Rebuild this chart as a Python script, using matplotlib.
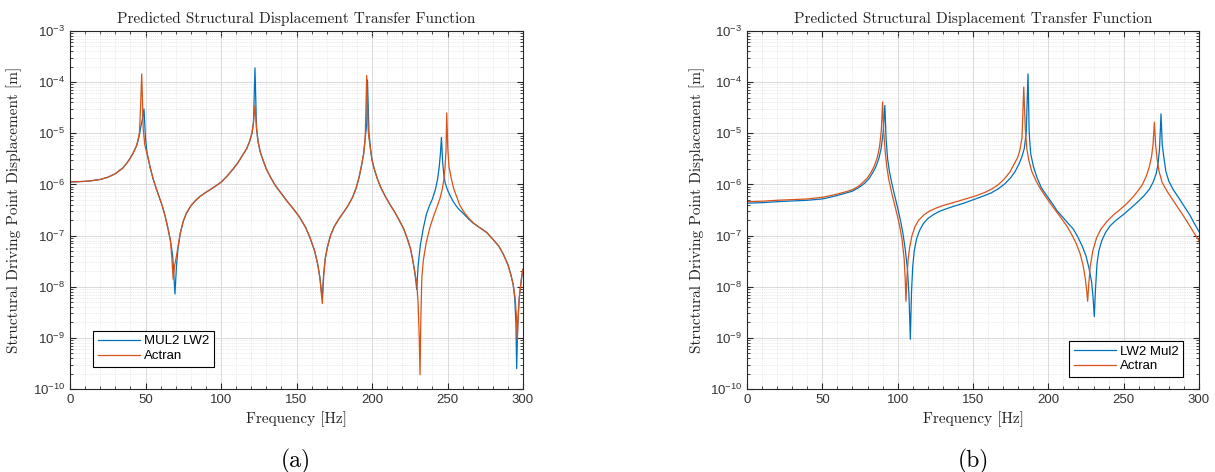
import matplotlib.pyplot as plt
from matplotlib.ticker import MultipleLocator, LogLocator, NullFormatter

plt.switch_backend('agg')

# ---- panel (a) ----
freq_a_mul2 = [0, 5, 10, 15, 20, 25, 30, 35, 38, 40, 42, 44, 45, 46, 47, 48, 49, 50, 51, 53, 55, 57, 59, 61,
               63, 65, 66.5, 68, 69.5, 70.5, 71.5, 73, 75, 77, 80, 83, 86, 90, 95, 100, 104, 108, 111, 114,
               117, 119, 120.5, 121.5, 122.5, 123.5, 124.5, 126, 128, 130, 133, 136, 140, 144, 148, 152, 156,
               159, 162, 164, 165.5, 166.5, 167.1, 168, 169, 170.5, 172.5, 175, 178, 181, 184, 187, 189.5,
               191.5, 193, 194.5, 195.5, 196.5, 197, 198, 199, 200, 201.5, 203.5, 206, 209, 212, 215, 218,
               221, 223.5, 225.5, 227, 228.5, 229.6, 230.5, 232, 234, 236, 238, 240, 242, 243.5, 244.5, 245.3,
               246, 246.7, 247.5, 248.5, 250, 252, 254, 257, 260.5, 264, 267, 271, 276, 280, 284, 287, 290,
               292, 293.5, 294.5, 295.3, 295.8, 296.5, 297.5, 298.5, 299.3, 300]
disp_a_mul2 = [1.12e-6, 1.13e-6, 1.15e-6, 1.19e-6, 1.25e-6, 1.38e-6, 1.62e-6, 2.1e-6, 2.7e-6, 3.3e-6, 4.2e-6,
               5.6e-6, 7e-6, 9.5e-6, 1.4e-5, 1.9e-5, 3e-5, 8e-6, 4.2e-6, 2.2e-6, 1.3e-6, 8.5e-7, 5.8e-7,
               3.9e-7,
               2.4e-7, 1.35e-7, 8e-8, 4e-8, 7.2e-9, 2.5e-8, 5.5e-8, 1.1e-7, 1.9e-7, 2.7e-7, 3.8e-7, 4.8e-7,
               5.8e-7, 7e-7, 8.7e-7, 1.1e-6, 1.45e-6, 2e-6, 2.6e-6, 3.6e-6,
               5e-6, 7e-6, 1e-5, 1.6e-5, 1.9e-4, 1.3e-5, 7e-6, 4.3e-6, 2.9e-6, 2e-6, 1.35e-6, 9.5e-7, 6.6e-7,
               4.6e-7, 3.3e-7, 2.3e-7, 1.45e-7,
               9e-8, 5e-8, 2.8e-8, 1.5e-8, 8e-9, 6.3e-9, 1.8e-8, 3.5e-8, 6e-8, 1e-7, 1.5e-7, 2.1e-7, 2.8e-7,
               3.8e-7, 5.5e-7, 8.5e-7,
               1.4e-6, 2.3e-6, 4e-6, 8e-6, 1.5e-5, 1.1e-4, 1e-5, 5e-6, 3e-6, 2e-6, 1.3e-6, 8.5e-7, 5.7e-7,
               4e-7, 2.9e-7, 2e-7,
               1.35e-7, 8.5e-8, 5.5e-8, 3.3e-8, 1.8e-8, 8.9e-9, 2.5e-8, 6.5e-8, 1.4e-7, 2.6e-7, 3.8e-7,
               5.2e-7, 8e-7, 1.3e-6, 2.2e-6, 4e-6,
               8.3e-6, 3e-6, 1.6e-6, 1.05e-6, 7.8e-7, 5.8e-7, 4.5e-7, 3.4e-7, 2.7e-7, 2.1e-7, 1.75e-7,
               1.45e-7, 1.15e-7, 8.5e-8, 6.2e-8, 4.3e-8, 2.7e-8,
               1.7e-8, 1.1e-8, 6e-9, 2e-9, 2.5e-10, 1.8e-9, 6e-9, 1.1e-8, 1.7e-8, 2.2e-8]

freq_a_actran = [0, 5, 10, 15, 20, 25, 30, 35, 38, 40, 42, 44, 45, 46, 46.5, 47.5, 48.5, 49.5, 50.5, 51.5, 53,
                 55, 57, 59, 61, 63, 65, 66.5, 67.5, 68.3, 69.2, 70.5, 71.5, 73, 75, 77, 80, 83, 86, 90, 95,
                 100, 104, 108, 111, 114, 117, 119, 120.5, 121.5, 122.5, 123.5, 124.5, 126, 128, 130, 133,
                 136, 140, 144, 148, 152, 156, 159, 162, 164, 165.5, 166.5, 167.1, 168, 169, 170.5, 172.5,
                 175, 178, 181, 184, 187, 189.5, 191.5, 193, 194.5, 195.5, 196.5, 197.5, 198, 199, 200,
                 201.5, 203.5, 206, 209, 212, 215, 218, 221, 223.5, 225.5, 227, 228.5, 229.6, 230.5, 231.3,
                 231.8, 232.3, 233, 234, 236, 238.5, 241, 243, 245, 246.5, 247.5, 248.3, 249, 249.5, 250.2,
                 251, 252.5, 254, 256, 258, 260.5, 264, 267, 271, 276, 280, 284, 287, 290, 292, 293.5, 294.8,
                 295.7, 296.2, 296.8, 297.5, 298.5, 299.3, 300]
disp_a_actran = [1.12e-6, 1.13e-6, 1.15e-6, 1.19e-6, 1.25e-6, 1.38e-6, 1.62e-6, 2.1e-6, 2.7e-6, 3.3e-6,
                 4.2e-6, 5.7e-6, 7.3e-6, 1.05e-5, 2.2e-5, 1.45e-4, 1.2e-5, 6e-6, 4.5e-6, 3.5e-6, 2.2e-6,
                 1.3e-6, 8.5e-7, 5.8e-7, 3.9e-7, 2.4e-7, 1.3e-7, 8e-8, 3.5e-8, 1.4e-8, 2.5e-8, 4e-8, 6e-8,
                 1.1e-7, 1.9e-7, 2.7e-7, 3.8e-7, 4.8e-7, 5.8e-7, 7e-7, 8.7e-7,
                 1.1e-6, 1.45e-6, 2e-6, 2.6e-6, 3.6e-6, 5e-6, 7e-6, 1e-5, 1.6e-5, 3.5e-5, 1.3e-5, 7e-6,
                 4.3e-6, 2.9e-6, 2e-6, 1.35e-6,
                 9.5e-7, 6.6e-7, 4.6e-7, 3.3e-7, 2.3e-7, 1.45e-7, 9e-8, 5e-8, 2.8e-8, 1.5e-8, 7e-9, 4.7e-9,
                 1.6e-8, 3.5e-8, 6e-8, 1e-7,
                 1.5e-7, 2.1e-7, 2.8e-7, 3.8e-7, 5.5e-7, 8.5e-7, 1.4e-6, 2.3e-6, 4e-6, 8e-6, 1.35e-4, 1.1e-5,
                 8e-6, 5e-6, 3e-6,
                 2e-6, 1.3e-6, 8.5e-7, 5.7e-7, 4e-7, 2.9e-7, 2e-7, 1.35e-7, 8.5e-8, 5.5e-8, 3.3e-8, 1.8e-8,
                 1.2e-8, 5e-9, 1e-9,
                 1.9e-10, 2e-9, 1.5e-8, 3.3e-8, 7.5e-8, 1.5e-7, 2.5e-7, 3.6e-7, 5.3e-7, 8e-7, 1.2e-6, 2e-6,
                 4.5e-6, 2.5e-5, 5e-6,
                 2.2e-6, 1.3e-6, 8.5e-7, 5.8e-7, 4e-7, 3e-7, 2.2e-7, 1.78e-7, 1.45e-7, 1.15e-7, 8.5e-8,
                 6.2e-8, 4.3e-8, 2.7e-8, 1.7e-8, 1.1e-8, 6e-9,
                 2.5e-9, 9e-10, 2.5e-9, 6e-9, 1.1e-8, 1.7e-8, 2.2e-8]

# ---- panel (b) ----
freq_b_lw2 = [0, 10, 20, 30, 40, 50, 55, 60, 65, 70, 74, 78, 81, 83.5, 85.5, 87.5, 89, 90.3, 91.5, 92.3, 93.3,
              94.5, 96, 97.5, 99, 100.5, 102, 103.5, 105, 106.5, 107.5, 108.4, 109.2, 110, 111, 112.5, 114.5,
              117, 120, 124, 128, 133, 138, 144, 150, 156, 162, 167, 171, 175, 178, 180.5, 182.5, 184, 185.3,
              186.5, 187.3, 188.3, 190, 192.5, 195.5, 199, 202.5, 206, 209.5, 213, 216.5, 219.5, 222.5, 225,
              227, 228.8, 229.8, 230.5, 231.3, 232.3, 233.5, 235.5, 238, 241, 245, 250, 255, 259.5, 263.5,
              267, 269.5, 271.5, 272.8, 273.8, 274.8, 275.6, 276.6, 278, 280, 283, 286.5, 290, 294, 297, 300]
disp_b_lw2 = [4.3e-7, 4.4e-7, 4.6e-7, 4.75e-7, 4.9e-7, 5.2e-7, 5.6e-7, 6.1e-7, 6.7e-7, 7.4e-7, 8.6e-7,
              1.05e-6, 1.3e-6, 1.7e-6, 2.2e-6, 3.2e-6, 5e-6, 1e-5, 3.5e-5, 8e-6, 3.2e-6,
              1.8e-6, 1.1e-6, 7e-7, 4.6e-7, 3e-7, 1.9e-7, 1.1e-7, 5.5e-8, 2.2e-8, 7e-9, 9.4e-10, 8e-9, 2.5e-8,
              5e-8, 8.5e-8, 1.25e-7,
              1.7e-7, 2.15e-7, 2.6e-7, 3e-7, 3.4e-7, 3.8e-7, 4.3e-7, 5e-7, 5.8e-7, 6.8e-7, 8.3e-7, 1.02e-6,
              1.35e-6, 1.8e-6, 2.5e-6, 3.5e-6, 5e-6, 1e-5,
              1.45e-4, 1e-5, 4e-6, 2.3e-6, 1.35e-6, 8.5e-7, 6e-7, 4.3e-7, 3e-7, 2.3e-7, 1.75e-7, 1.35e-7,
              9.5e-8, 6.2e-8, 4e-8,
              2.3e-8, 1.2e-8, 5.5e-9, 2.6e-9, 9e-9, 2.8e-8, 5e-8, 8e-8, 1.15e-7, 1.55e-7, 2e-7, 2.6e-7,
              3.5e-7, 4.6e-7, 6e-7,
              8e-7, 1.1e-6, 1.6e-6, 2.5e-6, 5e-6, 2.4e-5, 6e-6, 3.5e-6, 1.8e-6, 1.15e-6, 7.8e-7, 5.5e-7,
              3.8e-7, 2.5e-7, 1.7e-7, 1.2e-7]

freq_b_actran = [0, 10, 20, 30, 40, 50, 55, 60, 65, 70, 74, 77, 80, 82.5, 84.5, 86.5, 88, 89.2, 90, 90.8, 91.7,
                 92.8, 94, 95.5, 97, 98.5, 100, 101.5, 103, 104.3, 105, 105.5, 106.2, 107, 108, 109.5, 111.5,
                 114, 117.5, 121, 125, 130, 135, 140, 146, 152, 158, 163, 167, 171, 174.5, 177, 179.5, 181,
                 182.5, 183.7, 184.7, 185.7, 187, 189, 192, 195, 198.5, 202, 205.5, 209, 212.5, 215.5, 218.5,
                 221, 223, 224.6, 225.5, 226.1, 226.8, 227.8, 229.5, 232, 235, 239, 243, 248, 252, 256, 259.5,
                 262.5, 265, 267, 268.5, 269.5, 270.4, 271.2, 272.2, 273.5, 275.5, 278.5, 282, 285.5, 289,
                 293, 296.5, 300]
disp_b_actran = [4.6e-7, 4.7e-7, 4.9e-7, 5.05e-7, 5.2e-7, 5.6e-7, 6e-7, 6.5e-7, 7.1e-7, 7.9e-7, 9.2e-7,
                 1.1e-6, 1.35e-6, 1.75e-6, 2.3e-6, 3.4e-6, 5.5e-6, 1.2e-5, 4.1e-5, 1e-5, 4.5e-6,
                 2.2e-6, 1.3e-6, 8e-7, 5.2e-7, 3.5e-7, 2.3e-7, 1.45e-7, 8e-8, 3.5e-8, 1.4e-8, 5.2e-9, 1.6e-8,
                 3.5e-8, 6e-8, 1e-7, 1.5e-7,
                 2e-7, 2.55e-7, 3e-7, 3.4e-7, 3.85e-7, 4.25e-7, 4.7e-7, 5.3e-7, 6e-7, 7e-7, 8.3e-7, 1e-6,
                 1.3e-6, 1.75e-6, 2.4e-6, 3.3e-6, 4.5e-6,
                 8e-6, 8e-5, 1.2e-5, 5e-6, 3e-6, 1.8e-6, 1.15e-6, 8e-7, 5.6e-7, 4e-7, 2.9e-7, 2.1e-7, 1.5e-7,
                 1.05e-7, 7e-8,
                 4.5e-8, 2.7e-8, 1.4e-8, 8e-9, 5.2e-9, 1.1e-8, 2.5e-8, 5e-8, 9e-8, 1.35e-7, 1.9e-7, 2.5e-7,
                 3.3e-7, 4.2e-7, 5.6e-7, 7.5e-7,
                 1e-6, 1.45e-6, 2.2e-6, 3.5e-6, 6e-6, 1.65e-5, 6e-6, 3.1e-6, 1.8e-6, 1.1e-6, 7.6e-7, 5.3e-7,
                 3.7e-7, 2.6e-7,
                 1.7e-7, 1.15e-7, 8e-8]

labels_a = ['MUL2 LW2', 'Actran']
labels_b = ['LW2 Mul2', 'Actran']
x_ticks = [0, 50, 100, 150, 200, 250, 300]

TITLE = 'Predicted Structural Displacement Transfer Function'
XLABEL = 'Frequency [Hz]'
YLABEL = 'Structural Driving Point Displacement [m]'

BLUE = '#0072BD'
ORANGE = '#D95319'
SERIF = 'cmr10'

plt.rcParams['font.family'] = ['Liberation Sans', 'DejaVu Sans']
plt.rcParams['mathtext.default'] = 'regular'

fig = plt.figure(figsize=(12.15, 4.72), dpi=100)


def draw(ax, fa, ya, fb, yb, labels, leg_loc, leg_anchor, ylab_x):
    ax.plot(fa, ya, color=BLUE, lw=0.9, label=labels[0])
    ax.plot(fb, yb, color=ORANGE, lw=0.9, label=labels[1])
    ax.set_yscale('log')
    ax.set_xlim(0, 300)
    ax.set_ylim(1e-10, 1e-3)
    ax.set_xticks(x_ticks)
    ax.xaxis.set_minor_locator(MultipleLocator(10))
    ax.yaxis.set_major_locator(LogLocator(base=10, numticks=20))
    ax.yaxis.set_minor_locator(LogLocator(base=10, subs=range(2, 10), numticks=20))
    ax.yaxis.set_minor_formatter(NullFormatter())
    ax.grid(which='major', color='#d4d4d4', lw=0.6)
    ax.grid(which='minor', color='#d8d8d8', lw=0.5, linestyle=':')
    ax.set_axisbelow(True)
    ax.tick_params(which='both', direction='in', top=True, right=True, colors='#262626',
                   labelsize=9.5, labelcolor='#333333')
    ax.tick_params(which='major', length=4)
    ax.tick_params(which='minor', length=2)
    for s in ax.spines.values():
        s.set_color('#262626')
        s.set_linewidth(0.8)
    ax.set_title(TITLE, fontfamily=SERIF, fontsize=11, pad=6, color='#222222')
    ax.set_xlabel(XLABEL, fontfamily=SERIF, fontsize=11, labelpad=4, color='#222222')
    ax.set_ylabel(YLABEL, fontfamily=SERIF, fontsize=11, color='#222222')
    ax.yaxis.set_label_coords(ylab_x, 0.5)
    leg = ax.legend(loc=leg_loc, bbox_to_anchor=leg_anchor, fontsize=9.5, frameon=True, fancybox=False,
                    edgecolor='black', framealpha=1, handlelength=3.2, handletextpad=0.3,
                    borderpad=0.35, labelspacing=0.2, borderaxespad=0)
    leg.get_frame().set_linewidth(0.8)


ax1 = fig.add_axes([70 / 1215, 1 - 389 / 472, 453 / 1215, 358 / 472])
draw(ax1, freq_a_mul2, disp_a_mul2, freq_a_actran, disp_a_actran, labels_a,
     'lower left', (0.051, 0.0615), -0.105)

ax2 = fig.add_axes([747 / 1215, 1 - 389 / 472, 452 / 1215, 358 / 472])
draw(ax2, freq_b_lw2, disp_b_lw2, freq_b_actran, disp_b_actran, labels_b,
     'lower right', (0.965, 0.0335), -0.093)

fig.text(296 / 1215, 1 - 461 / 472, '(a)', fontfamily=SERIF, fontsize=17, ha='center', va='center')
fig.text(973 / 1215, 1 - 461 / 472, '(b)', fontfamily=SERIF, fontsize=17, ha='center', va='center')

fig.savefig('out.png', dpi=100)
